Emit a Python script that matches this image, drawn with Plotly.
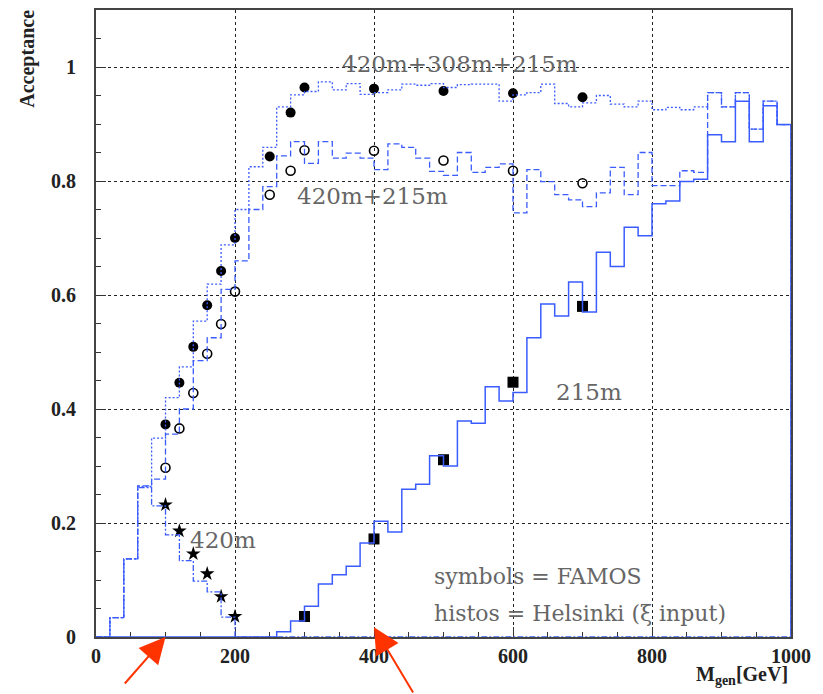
import plotly.graph_objects as go

# ---------------- data ----------------
bin_edges = [0, 20, 40, 60, 80, 100, 120, 140, 160, 180, 200, 220, 240, 260, 280, 300,
             320, 340, 360, 380, 400, 420, 440, 460, 480, 500, 520, 540, 560, 580, 600,
             620, 640, 660, 680, 700, 720, 740, 760, 780, 800, 820, 840, 860, 880, 900,
             920, 940, 960, 980, 1000]

acc_420 = [0.0, 0.034, 0.137, 0.262, 0.230, 0.179, 0.134, 0.098, 0.079, 0.035,
           0.0, 0.0, 0.0, 0.0, 0.0, 0.0, 0.0, 0.0, 0.0, 0.0,
           0.0, 0.0, 0.0, 0.0, 0.0, 0.0, 0.0, 0.0, 0.0, 0.0,
           0.0, 0.0, 0.0, 0.0, 0.0, 0.0, 0.0, 0.0, 0.0, 0.0,
           0.0, 0.0, 0.0, 0.0, 0.0, 0.0, 0.0, 0.0, 0.0, 0.0]

acc_420_215 = [0.0, 0.034, 0.137, 0.265, 0.277, 0.356, 0.400, 0.485, 0.525, 0.610,
               0.660, 0.750, 0.790, 0.844, 0.869, 0.831, 0.869, 0.840, 0.849, 0.840,
               0.820, 0.865, 0.859, 0.840, 0.817, 0.810, 0.850, 0.815, 0.824, 0.830,
               0.744, 0.820, 0.799, 0.776, 0.767, 0.755, 0.779, 0.824, 0.776, 0.850,
               0.792, 0.792, 0.818, 0.815, 0.955, 0.930, 0.955, 0.891, 0.940, 0.899]

acc_420_308_215 = [0.0, 0.034, 0.137, 0.264, 0.349, 0.420, 0.474, 0.554, 0.619, 0.688,
                   0.750, 0.825, 0.859, 0.930, 0.951, 0.957, 0.974, 0.960, 0.971, 0.952,
                   0.955, 0.960, 0.970, 0.968, 0.971, 0.964, 0.969, 0.970, 0.970, 0.940,
                   0.951, 0.955, 0.970, 0.936, 0.930, 0.937, 0.950, 0.935, 0.930, 0.940,
                   0.925, 0.929, 0.925, 0.930, 0.955, 0.930, 0.955, 0.891, 0.940, 0.899]

acc_215 = [0.0, 0.0, 0.0, 0.0, 0.0, 0.0, 0.0, 0.0, 0.0, 0.0,
           0.0, 0.0, 0.0, 0.009, 0.028, 0.054, 0.093, 0.109, 0.124, 0.165,
           0.203, 0.184, 0.259, 0.268, 0.318, 0.300, 0.379, 0.375, 0.439, 0.414,
           0.429, 0.525, 0.584, 0.563, 0.623, 0.570, 0.675, 0.650, 0.719, 0.704,
           0.760, 0.765, 0.799, 0.803, 0.881, 0.869, 0.940, 0.869, 0.932, 0.899]

# FAMOS symbols
famos_all_mass = [100, 120, 140, 160, 180, 200, 250, 280, 300, 400, 500, 600, 700]
famos_all_acc = [0.373, 0.446, 0.509, 0.582, 0.642, 0.700, 0.843, 0.920, 0.964, 0.962, 0.958, 0.954, 0.947]

famos_420_215_mass = [100, 120, 140, 160, 180, 200, 250, 280, 300, 400, 500, 600, 700]
famos_420_215_acc = [0.297, 0.366, 0.428, 0.497, 0.549, 0.606, 0.776, 0.818, 0.854, 0.853, 0.836, 0.818, 0.796]

famos_420_mass = [100, 120, 140, 160, 180, 200]
famos_420_acc = [0.232, 0.186, 0.146, 0.111, 0.071, 0.036]

famos_215_mass = [300, 400, 500, 600, 700]
famos_215_acc = [0.036, 0.172, 0.311, 0.447, 0.580]

arrow_masses = [100, 400]

y_ticks = [0, 0.2, 0.4, 0.6, 0.8, 1.0]
y_ticktext = ["0", "0.2", "0.4", "0.6", "0.8", "1"]
x_ticks = [0, 200, 400, 600, 800, 1000]

# ---------------- figure ----------------
BLUE = "#3a5cff"
fig = go.Figure()

# symbols first (lines drawn above them, as in the reference)
fig.add_trace(go.Scatter(x=famos_all_mass, y=famos_all_acc, mode="markers",
                         marker=dict(symbol="circle", size=10, color="black"),
                         showlegend=False))
fig.add_trace(go.Scatter(x=famos_420_215_mass, y=famos_420_215_acc, mode="markers",
                         marker=dict(symbol="circle-open", size=9, color="black",
                                     line=dict(width=1.6, color="black")),
                         showlegend=False))
fig.add_trace(go.Scatter(x=famos_420_mass, y=famos_420_acc, mode="markers",
                         marker=dict(symbol="star", size=11, color="black"),
                         showlegend=False))
fig.add_trace(go.Scatter(x=famos_215_mass, y=famos_215_acc, mode="markers",
                         marker=dict(symbol="square", size=11, color="black"),
                         showlegend=False))


def step(vals):
    return list(vals) + [0.0]


fig.add_trace(go.Scatter(x=bin_edges, y=step(acc_215), mode="lines", line_shape="hv",
                         line=dict(color=BLUE, width=1.5), showlegend=False))
fig.add_trace(go.Scatter(x=bin_edges, y=step(acc_420_215), mode="lines", line_shape="hv",
                         line=dict(color=BLUE, width=1.3, dash="6px,3px"), showlegend=False))
fig.add_trace(go.Scatter(x=bin_edges, y=step(acc_420_308_215), mode="lines", line_shape="hv",
                         line=dict(color=BLUE, width=1.3, dash="2px,2px"), showlegend=False))
fig.add_trace(go.Scatter(x=bin_edges, y=step(acc_420), mode="lines", line_shape="hv",
                         line=dict(color=BLUE, width=1.3, dash="6px,2px,2px,2px"), showlegend=False))

L, R, T, B = 96, 32, 8, 57
W, H = 823, 694
PW, PH = W - L - R, H - T - B


def px(xp):
    return (xp - L) / PW


def py(yp):
    return (H - B - yp) / PH


tickfont = dict(family="Liberation Serif", size=20, color="#222", weight="bold")

fig.update_layout(
    width=W, height=H,
    margin=dict(l=L, r=R, t=T, b=B, pad=0),
    paper_bgcolor="white", plot_bgcolor="white",
    showlegend=False,
    xaxis=dict(range=[0, 1000], tickvals=x_ticks, ticks="inside", ticklen=10,
               tickcolor="#333", showline=True, linecolor="#444", linewidth=1.5,
               mirror=True, showgrid=True, gridcolor="#222", gridwidth=1, griddash="dot",
               zeroline=False, tickfont=tickfont, layer="below traces",
               minor=dict(dtick=50, ticks="inside", ticklen=5, tickcolor="#333", showgrid=False)),
    yaxis=dict(range=[0, 1.1], tickvals=y_ticks, ticktext=y_ticktext, ticks="inside",
               ticklen=10, tickcolor="#333", showline=True, linecolor="#444", linewidth=2,
               mirror=True, showgrid=True, gridcolor="#222", gridwidth=1, griddash="dot",
               zeroline=False, tickfont=tickfont, ticklabelstandoff=14, layer="below traces",
               minor=dict(dtick=0.05, ticks="inside", ticklen=5, tickcolor="#333", showgrid=False)),
)

lab_font = dict(family="DejaVu Serif", size=23, color="#666")
note_font = dict(family="DejaVu Serif", size=22, color="#666")
anns = [
    dict(text="420m+308m+215m", x=px(340), y=py(61.7), xanchor="left", yanchor="middle", font=lab_font),
    dict(text="420m+215m", x=px(295), y=py(195), xanchor="left", yanchor="middle", font=lab_font),
    dict(text="215m", x=px(554), y=py(391.7), xanchor="left", yanchor="middle", font=lab_font),
    dict(text="420m", x=px(188), y=py(539.3), xanchor="left", yanchor="middle", font=lab_font),
    dict(text="symbols = FAMOS", x=px(432), y=py(576.7), xanchor="left", yanchor="middle", font=note_font),
    dict(text="histos = Helsinki (ξ input)", x=px(432), y=py(613.3), xanchor="left", yanchor="middle", font=note_font),
    dict(text="<b>Acceptance</b>", textangle=-90, x=px(26.7), y=py(6), xanchor="center", yanchor="top",
         font=dict(family="Liberation Serif", size=20, color="#222")),
    dict(text="<b>M<sub>gen</sub>[GeV]</b>", x=px(790), y=py(676), xanchor="right", yanchor="middle",
         font=dict(family="Liberation Serif", size=20, color="#222")),
]
for a in anns:
    a.update(xref="paper", yref="paper", showarrow=False)
    fig.add_annotation(**a)

# red arrows pointing at the axis
arrow_tails = [(-42, 48), (40, 67)]
arrow_y = [0.0, 0.017]
for m, (ax, ay), yv in zip(arrow_masses, arrow_tails, arrow_y):
    fig.add_annotation(x=m, y=yv, xref="x", yref="y", text="", showarrow=True,
                       ax=ax, ay=ay, axref="pixel", ayref="pixel",
                       arrowhead=2, arrowsize=2.6, arrowwidth=2, arrowcolor="#ff3300")

fig.write_html("out.html")
